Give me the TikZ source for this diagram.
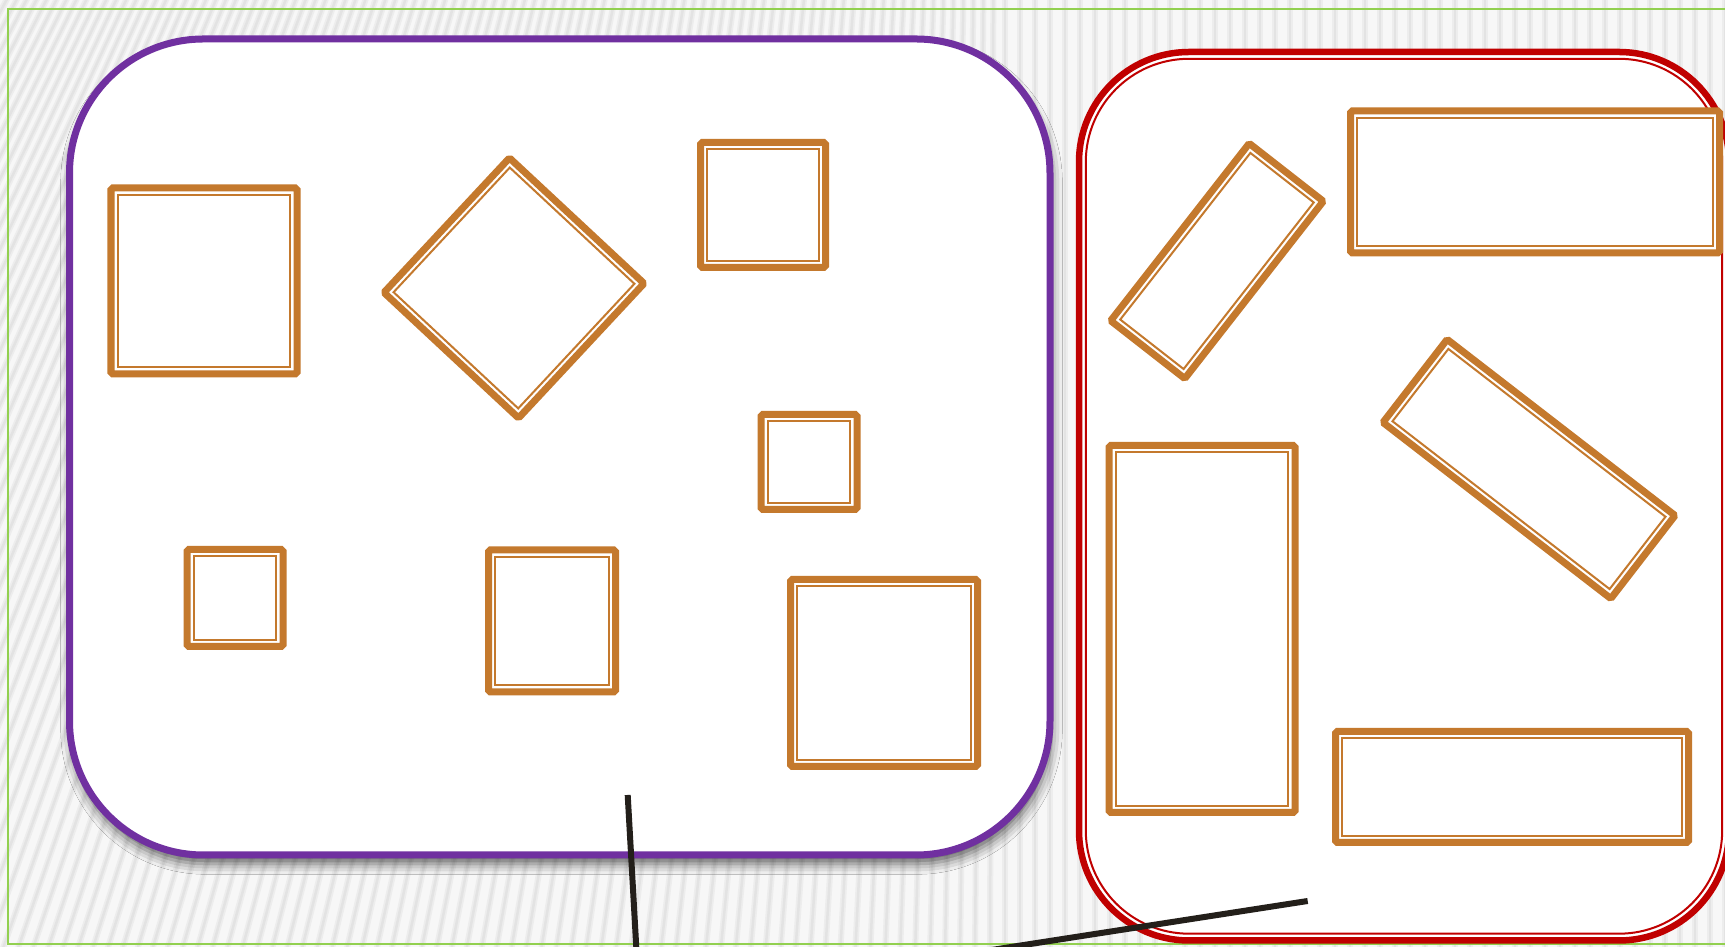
\documentclass[tikz,border=0pt]{standalone}
\usepackage{tikz}
\usetikzlibrary{shadows.blur}
\usepackage{xcolor}
\definecolor{framebrown}{RGB}{196,121,45}
\definecolor{grouppurple}{RGB}{112,48,160}
\definecolor{groupred}{RGB}{192,0,0}
\definecolor{pagegreen}{RGB}{146,208,80}
\definecolor{pointerdark}{RGB}{35,31,26}
\tikzset{
    stripe/.style={line width=0.06cm, black!7},
    stripecore/.style={line width=0.025cm, black!11},
    frameout/.style={draw=framebrown, line width=0.07cm, fill=white, inner sep=0pt, rounded corners=0.5pt},
    framein/.style={draw=framebrown, line width=0.02cm, inner sep=0pt},
    pointer/.style={pointerdark, line width=0.06cm}
}

\begin{document}
\begin{tikzpicture}
    \useasboundingbox (0,0) rectangle (17.25,9.47);

    \begin{scope}
        \clip (0,0) rectangle (17.25,9.47);
        \fill[black!3] (0,0) rectangle (17.25,9.47);
        \foreach \s in {-40,...,116} {
            \pgfmathsetmacro\bx{\s*0.15}
            \pgfmathsetmacro\lean{3.4*max(0,1-\bx/10)}
            \draw[stripe] (\bx,-0.1) -- (\bx+\lean,9.6);
            \draw[stripecore] (\bx,-0.1) -- (\bx+\lean,9.6);
        }
    \end{scope}

    \draw[pagegreen, line width=0.02cm] (0.08,0.025) rectangle (17.4,9.38);

    \node[draw=grouppurple, line width=0.07cm, fill=white, rounded corners=1.34cm, minimum width=9.805cm, minimum height=8.16cm, inner sep=0pt,
        blur shadow={shadow xshift=0.5pt, shadow yshift=-2.5pt, shadow blur radius=3pt, shadow opacity=60}] (purplegroup) at (5.5975,5.0) {};

    \node[draw=groupred, line width=0.065cm, fill=white, rounded corners=1.1cm, minimum width=6.5cm, minimum height=8.885cm, inner sep=0pt] (redgroup) at (14.04,4.5075) {};
    \node[draw=groupred, line width=0.02cm, rounded corners=1.032cm, minimum width=6.364cm, minimum height=8.749cm, inner sep=0pt] (redgroup-in) at (redgroup) {};

    \foreach \n/\x/\y/\w/\h/\a in {sqA/2.04/6.66/1.86/1.86/0, sqB/5.14/6.59/1.84/1.84/47, sqC/7.63/7.42/1.25/1.25/0,
        sqD/8.09/4.85/0.96/0.95/0, sqE/2.35/3.49/0.96/0.97/0, sqF/5.52/3.26/1.27/1.42/0, sqG/8.84/2.74/1.87/1.87/0,
        rcA/12.17/6.86/2.25/0.94/52, rcB/15.35/7.65/3.69/1.42/0, rcC/15.29/4.78/2.88/1.05/-37.7,
        rcD/12.02/3.18/1.86/3.67/0, rcE/15.12/1.60/3.53/1.11/0} {
        \node[frameout, minimum width=\w cm, minimum height=\h cm, rotate=\a] (\n) at (\x,\y) {};
        \node[framein, minimum width=\w cm-0.136cm, minimum height=\h cm-0.136cm, rotate=\a] (\n-in) at (\n) {};
    }

    \coordinate (tipA) at (6.277,1.52);
    \coordinate (endA) at (6.37,-0.13);
    \coordinate (tipB) at (13.077,0.46);
    \coordinate (endB) at (9.40,-0.11);
    \draw[pointer] (tipA) -- (endA);
    \draw[pointer] (tipB) -- (endB);

\end{tikzpicture}
\end{document}
